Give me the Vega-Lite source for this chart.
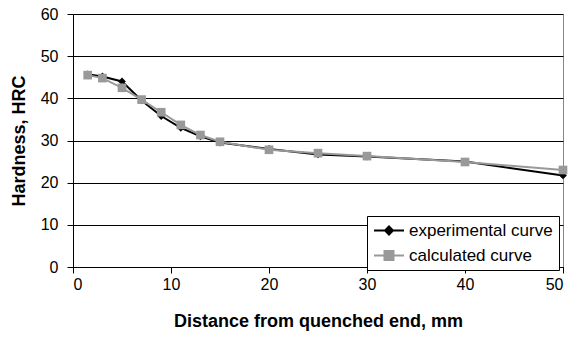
{
  "$schema": "https://vega.github.io/schema/vega-lite/v6.json",
  "width": 490,
  "height": 253,
  "autosize": {"type": "none"},
  "padding": {"left": 73, "top": 14, "right": 9, "bottom": 70},
  "background": "white",
  "config": {
    "view": {"stroke": "#888888", "strokeWidth": 1},
    "font": "Liberation Sans",
    "axis": {
      "domainColor": "black",
      "tickColor": "black",
      "tickSize": 6,
      "labelFontSize": 16,
      "labelColor": "black",
      "titleFontSize": 18,
      "titleFontWeight": "bold",
      "titleColor": "black"
    }
  },
  "data": {
    "values": [
      {"x": 1.5, "y": 45.7, "series": "experimental curve"},
      {"x": 3, "y": 45.2, "series": "experimental curve"},
      {"x": 5, "y": 44.0, "series": "experimental curve"},
      {"x": 7, "y": 39.5, "series": "experimental curve"},
      {"x": 9, "y": 35.8, "series": "experimental curve"},
      {"x": 11, "y": 33.0, "series": "experimental curve"},
      {"x": 13, "y": 31.0, "series": "experimental curve"},
      {"x": 15, "y": 29.5, "series": "experimental curve"},
      {"x": 20, "y": 28.0, "series": "experimental curve"},
      {"x": 25, "y": 26.7, "series": "experimental curve"},
      {"x": 30, "y": 26.2, "series": "experimental curve"},
      {"x": 40, "y": 25.0, "series": "experimental curve"},
      {"x": 50, "y": 21.7, "series": "experimental curve"},
      {"x": 1.5, "y": 45.5, "series": "calculated curve"},
      {"x": 3, "y": 44.8, "series": "calculated curve"},
      {"x": 5, "y": 42.5, "series": "calculated curve"},
      {"x": 7, "y": 39.7, "series": "calculated curve"},
      {"x": 9, "y": 36.7, "series": "calculated curve"},
      {"x": 11, "y": 33.7, "series": "calculated curve"},
      {"x": 13, "y": 31.3, "series": "calculated curve"},
      {"x": 15, "y": 29.7, "series": "calculated curve"},
      {"x": 20, "y": 27.8, "series": "calculated curve"},
      {"x": 25, "y": 27.0, "series": "calculated curve"},
      {"x": 30, "y": 26.3, "series": "calculated curve"},
      {"x": 40, "y": 24.9, "series": "calculated curve"},
      {"x": 50, "y": 23.0, "series": "calculated curve"}
    ]
  },
  "encoding": {
    "x": {
      "field": "x", "type": "quantitative",
      "scale": {"domain": [0, 50], "nice": false, "zero": false},
      "axis": {"values": [0, 10, 20, 30, 40, 50], "grid": false, "title": "Distance from quenched end, mm", "labelPadding": 3, "titlePadding": 20}
    },
    "y": {
      "field": "y", "type": "quantitative",
      "scale": {"domain": [0, 60], "nice": false},
      "axis": {"values": [0, 10, 20, 30, 40, 50, 60], "grid": true, "gridColor": "black", "gridOpacity": 1, "title": "Hardness, HRC", "labelPadding": 9, "titlePadding": 12}
    }
  },
  "layer": [
    {
      "transform": [{"filter": "datum.series == 'experimental curve'"}],
      "mark": {"type": "line", "color": "black", "strokeWidth": 2}
    },
    {
      "transform": [{"filter": "datum.series == 'experimental curve'"}],
      "mark": {"type": "point", "shape": "diamond", "filled": true, "color": "black", "size": 60, "opacity": 1}
    },
    {
      "transform": [{"filter": "datum.series == 'calculated curve'"}],
      "mark": {"type": "line", "color": "#999999", "strokeWidth": 2}
    },
    {
      "transform": [{"filter": "datum.series == 'calculated curve'"}],
      "mark": {"type": "point", "shape": "square", "filled": true, "color": "#999999", "size": 75, "opacity": 1}
    },
    {
      "mark": {"type": "point", "filled": true, "opacity": 0, "strokeWidth": 2},
      "encoding": {
        "fill": {"field": "series", "type": "nominal", "scale": {"domain": ["experimental curve", "calculated curve"], "range": ["black", "#999999"]}, "legend": null},
        "stroke": {"field": "series", "type": "nominal", "scale": {"domain": ["experimental curve", "calculated curve"], "range": ["black", "#999999"]}, "legend": null},
        "shape": {
          "field": "series", "type": "nominal",
          "scale": {"domain": ["experimental curve", "calculated curve"], "range": ["M-1,0H3M1,-0.53L1.53,0L1,0.53L0.47,0Z", "M-1,0H3M0.4,-0.6H1.6V0.6H0.4Z"]},
          "legend": {
            "title": null, "orient": "none", "legendX": 294, "legendY": 202,
            "strokeColor": "black", "fillColor": "white", "padding": 6,
            "labelFontSize": 17, "labelColor": "black", "symbolSize": 225,
            "symbolStrokeWidth": 2, "symbolOpacity": 1, "rowPadding": 7,
            "labelOffset": 19
          }
        }
      }
    }
  ]
}
